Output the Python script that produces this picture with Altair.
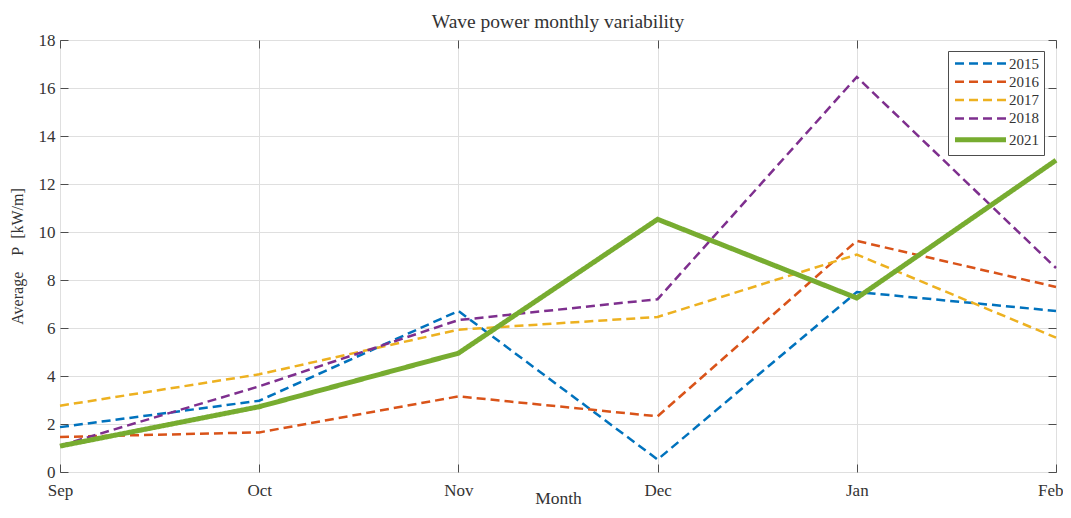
import altair as alt
import pandas as pd

months = ["Sep", "Oct", "Nov", "Dec", "Jan", "Feb"]
years = ["2015", "2016", "2017", "2018", "2021"]
p2015 = [1.87, 2.97, 6.71, 0.52, 7.50, 6.71]
p2016 = [1.46, 1.65, 3.15, 2.32, 9.63, 7.71]
p2017 = [2.76, 4.07, 5.93, 6.46, 9.06, 5.60]
p2018 = [1.10, 3.57, 6.33, 7.20, 16.46, 8.50]
p2021 = [1.08, 2.72, 4.95, 10.53, 7.25, 12.99]
y_ticks = [0, 2, 4, 6, 8, 10, 12, 14, 16, 18]

colors = ["#0072BD", "#D95319", "#EDB120", "#7E2F8E", "#77AC30"]
widths = [2.5, 2.5, 2.5, 2.5, 5]
dashes = [[9, 5], [9, 5], [9, 5], [9, 5], [1, 0]]
series = [p2015, p2016, p2017, p2018, p2021]

rows = []
for yr, vals in zip(years, series):
    for m, v in zip(months, vals):
        rows.append({"Month": m, "Year": yr, "P": v})
df = pd.DataFrame(rows)

FONT = "Liberation Serif"
TXT = "#333333"
FRAME = "#4d4d4d"
W, H = 996, 432
last_month = months[-1]

xscale = alt.Scale(type="point", domain=months, padding=0)
yscale = alt.Scale(domain=[0, 18], nice=False, zero=True)

base = alt.Chart(df)

leg = alt.Legend(title=None)
lines = base.mark_line().encode(
    x=alt.X("Month:N", scale=xscale, sort=months,
            axis=alt.Axis(orient="bottom", title="Month", grid=True, ticks=False,
                          domain=False, labelAngle=0, labelPadding=10,
                          labelAlign={"condition": {"test": f"datum.value == '{last_month}'",
                                                    "value": "right"},
                                      "value": "center"},
                          labelOffset={"condition": {"test": f"datum.value == '{last_month}'",
                                                     "value": 7},
                                       "value": 0},
                          titlePadding=-9, titleFontSize=17.5)),
    y=alt.Y("P:Q", scale=yscale,
            axis=alt.Axis(orient="left", title="Average\u2003P\u2002[kW/m]", values=y_ticks,
                          grid=True, ticks=False, domain=False, labelPadding=5,
                          titlePadding=13, titleFontSize=16)),
    color=alt.Color("Year:N", scale=alt.Scale(domain=years, range=colors), legend=leg),
    strokeDash=alt.StrokeDash("Year:N", scale=alt.Scale(domain=years, range=dashes),
                              legend=leg),
    strokeWidth=alt.StrokeWidth("Year:O",
                                scale=alt.Scale(type="ordinal", domain=years, range=widths),
                                legend=leg),
    detail="Year:N",
)

tick_axis = dict(labels=False, grid=False, ticks=True, tickSize=8, domain=False,
                 title=None, tickColor=FRAME)

inner1 = base.mark_point(opacity=0).encode(
    x=alt.X("Month:N", scale=xscale, sort=months,
            axis=alt.Axis(orient="top", offset=-H, **tick_axis)),
    y=alt.Y("P:Q", scale=yscale,
            axis=alt.Axis(orient="right", offset=-W, values=y_ticks, **tick_axis)),
)
inner2 = base.mark_point(opacity=0).encode(
    x=alt.X("Month:N", scale=xscale, sort=months,
            axis=alt.Axis(orient="bottom", offset=-H, **tick_axis)),
    y=alt.Y("P:Q", scale=yscale,
            axis=alt.Axis(orient="left", offset=-W, values=y_ticks, **tick_axis)),
)

chart = (
    alt.layer(lines, inner1, inner2)
    .resolve_scale(x="shared", y="shared")
    .resolve_axis(x="independent", y="independent")
    .properties(
        width=W, height=H,
        title=alt.TitleParams("Wave power monthly variability", fontSize=19.5,
                              font=FONT, fontWeight="normal", color=TXT, offset=-1),
        autosize=alt.AutoSizeParams(type="none"),
        padding={"left": 52, "top": 32, "right": 7, "bottom": 36},
        background="white",
    )
    .configure_view(stroke=FRAME, strokeWidth=1)
    .configure_axis(labelFont=FONT, titleFont=FONT, labelFontSize=17,
                    labelColor=TXT, titleColor=TXT, titleFontWeight="normal",
                    gridColor="#dfdfdf", gridWidth=1)
    .configure_legend(orient="none", legendX=888, legendY=11, labelFont=FONT,
                      labelFontSize=15, labelColor=TXT, symbolType="M-1.833,0H15.167",
                      symbolSize=36, strokeColor=FRAME, fillColor="white",
                      padding=5, rowPadding=2.3, labelOffset=41)
)

chart.save("out.html", embed_options={"renderer": "svg", "actions": False})
